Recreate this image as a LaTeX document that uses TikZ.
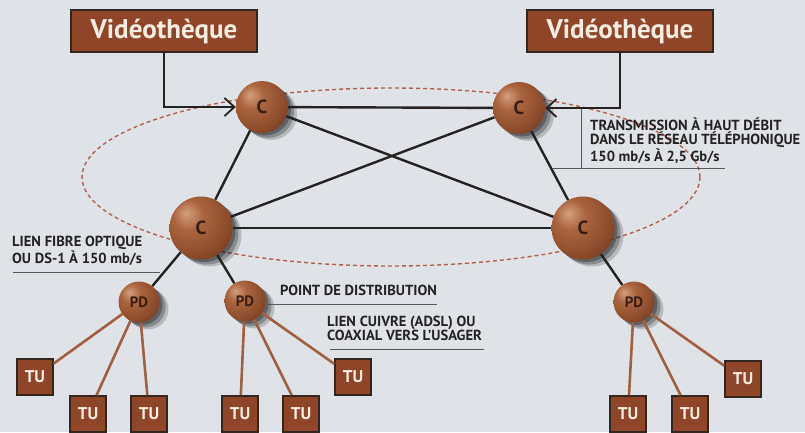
\documentclass[tikz,border=0pt]{standalone}
\usepackage{fontspec}
\setmainfont{PT Sans}
\usepackage{tikz}
\usetikzlibrary{arrows.meta}
\definecolor{paper}{RGB}{223,227,232}
\definecolor{boxbrown}{RGB}{143,70,40}
\definecolor{boxedge}{RGB}{50,38,30}
\definecolor{boxtext}{RGB}{246,236,224}
\definecolor{sphhi}{RGB}{212,160,125}
\definecolor{sphmid}{RGB}{170,100,62}
\definecolor{sphbase}{RGB}{138,74,42}
\definecolor{sphdark}{RGB}{82,40,22}
\definecolor{wirebrown}{RGB}{160,96,66}
\definecolor{ringred}{RGB}{178,100,80}
\definecolor{inkdark}{RGB}{38,34,34}
\definecolor{ballink}{RGB}{58,30,20}
\pgfdeclareradialshading{brownball}{\pgfpoint{-12bp}{12bp}}{color(0bp)=(sphhi); color(12bp)=(sphmid); color(30bp)=(sphbase); color(46bp)=(sphdark); color(75bp)=(sphdark)}

\begin{document}
\begin{tikzpicture}[x=1pt, y=-1pt,
  vid/.style={rectangle, draw=boxedge, line width=2pt, fill=boxbrown,
    minimum width=186pt, minimum height=42pt, inner sep=0pt, text=boxtext,
    font=\fontsize{27}{27}\selectfont\bfseries},
  ball/.style={circle, shading=brownball, inner sep=0pt, text=ballink,
    preaction={fill=black, fill opacity=0.18, transform canvas={xshift=9pt, yshift=-7pt}},
    preaction={fill=black, fill opacity=0.25, transform canvas={xshift=6pt, yshift=-5pt}},
    preaction={fill=black, fill opacity=0.3, transform canvas={xshift=3pt, yshift=-2.5pt}}},
  hub/.style={ball, minimum size=52pt, font=\fontsize{19}{19}\selectfont\bfseries},
  bighub/.style={ball, minimum size=63pt, font=\fontsize{19}{19}\selectfont\bfseries},
  dist/.style={ball, minimum size=41pt, font=\fontsize{15}{15}\selectfont\bfseries},
  term/.style={rectangle, draw=boxedge, line width=1.6pt, fill=boxbrown,
    minimum size=36pt, inner sep=0pt, text=boxtext, font=\fontsize{17}{17}\selectfont\bfseries},
  lbl/.style={align=left, anchor=west, inner sep=0pt, text=inkdark,
    font=\fontsize{14.6}{13.8}\selectfont\bfseries},
  trunk/.style={line width=2.4pt, inkdark},
  drop/.style={line width=2.6pt, wirebrown},
  feed/.style={line width=1.8pt, inkdark, -{Straight Barb[length=10pt,width=18pt]}},
  rule/.style={line width=0.8pt, black!65},
  ring/.style={line width=1.4pt, ringred, dash pattern=on 4pt off 3pt}]

\fill[paper] (0,0) rectangle (805,432);
\useasboundingbox (0,0) rectangle (805,432);

% ring round the backbone
\draw[ring] (391,177) ellipse [x radius=309, y radius=89];

% central offices
\node[hub] (cTL) at (262,107) {C};
\node[hub] (cTR) at (519,108) {C};
\node[bighub] (cBL) at (201,228) {C};
\node[bighub] (cBR) at (583,228) {C};

% distribution points
\node[dist] (pd1) at (139,302) {PD};
\node[dist] (pd2) at (245,301) {PD};
\node[dist] (pd3) at (634,302) {PD};

% video servers
\node[vid] (vidL) at (164,31) {Vidéothèque};
\node[vid] (vidR) at (620,31) {Vidéothèque};

% subscribers
\node[term] (tu1) at (35,377) {TU};
\node[term] (tu2) at (88,414) {TU};
\node[term] (tu3) at (149,414) {TU};
\node[term] (tu4) at (240,414) {TU};
\node[term] (tu5) at (301,414) {TU};
\node[term] (tu6) at (353,377) {TU};
\node[term] (tu7) at (628,414) {TU};
\node[term] (tu8) at (690,414) {TU};
\node[term] (tu9) at (743,379) {TU};

\draw[trunk] (cTL) -- (cTR);
\draw[trunk] (cBL) -- (cBR);
\draw[trunk] (cTL) -- (cBL);
\draw[trunk] (cTR) -- (cBR);
\draw[trunk] (cTL) -- (cBR);
\draw[trunk] (cTR) -- (cBL);
\draw[trunk] (cBL) -- (pd1);
\draw[trunk] (cBL) -- (pd2);
\draw[trunk] (cBR) -- (pd3);

\draw[feed] (vidL.south) |- (cTL);
\draw[feed] (vidR.south) |- (cTR);

\draw[drop] (pd1) -- (tu1);
\draw[drop] (pd1) -- (tu2);
\draw[drop] (pd1) -- (tu3);
\draw[drop] (pd2) -- (tu4);
\draw[drop] (pd2) -- (tu5);
\draw[drop] (pd2) -- (tu6);
\draw[drop] (pd3) -- (tu7);
\draw[drop] (pd3) -- (tu8);
\draw[drop] (pd3) -- (tu9);

% labels
\node[lbl] (lblTrans) at (590,141) {TRANSMISSION À HAUT DÉBIT\\DANS LE RÉSEAU TÉLÉPHONIQUE\\150 mb/s À 2,5 Gb/s};
\node[lbl] (lblFibre) at (12,251) {LIEN FIBRE OPTIQUE\\OU DS-1 À 150 mb/s};
\node[lbl] (lblPoint) at (280,290) {POINT DE DISTRIBUTION};
\node[lbl] (lblCuivre) at (327,328) {LIEN CUIVRE (ADSL) OU\\COAXIAL VERS L'USAGER};

\draw[rule] (581,109) -- (581,168);
\draw[rule] (553,168) -- (725,168);
\draw[rule] (13,272) -- (160,272);
\draw[rule] (267,304) -- (437,304);
\draw[rule] (330,349) -- (484,349);
\end{tikzpicture}
\end{document}
